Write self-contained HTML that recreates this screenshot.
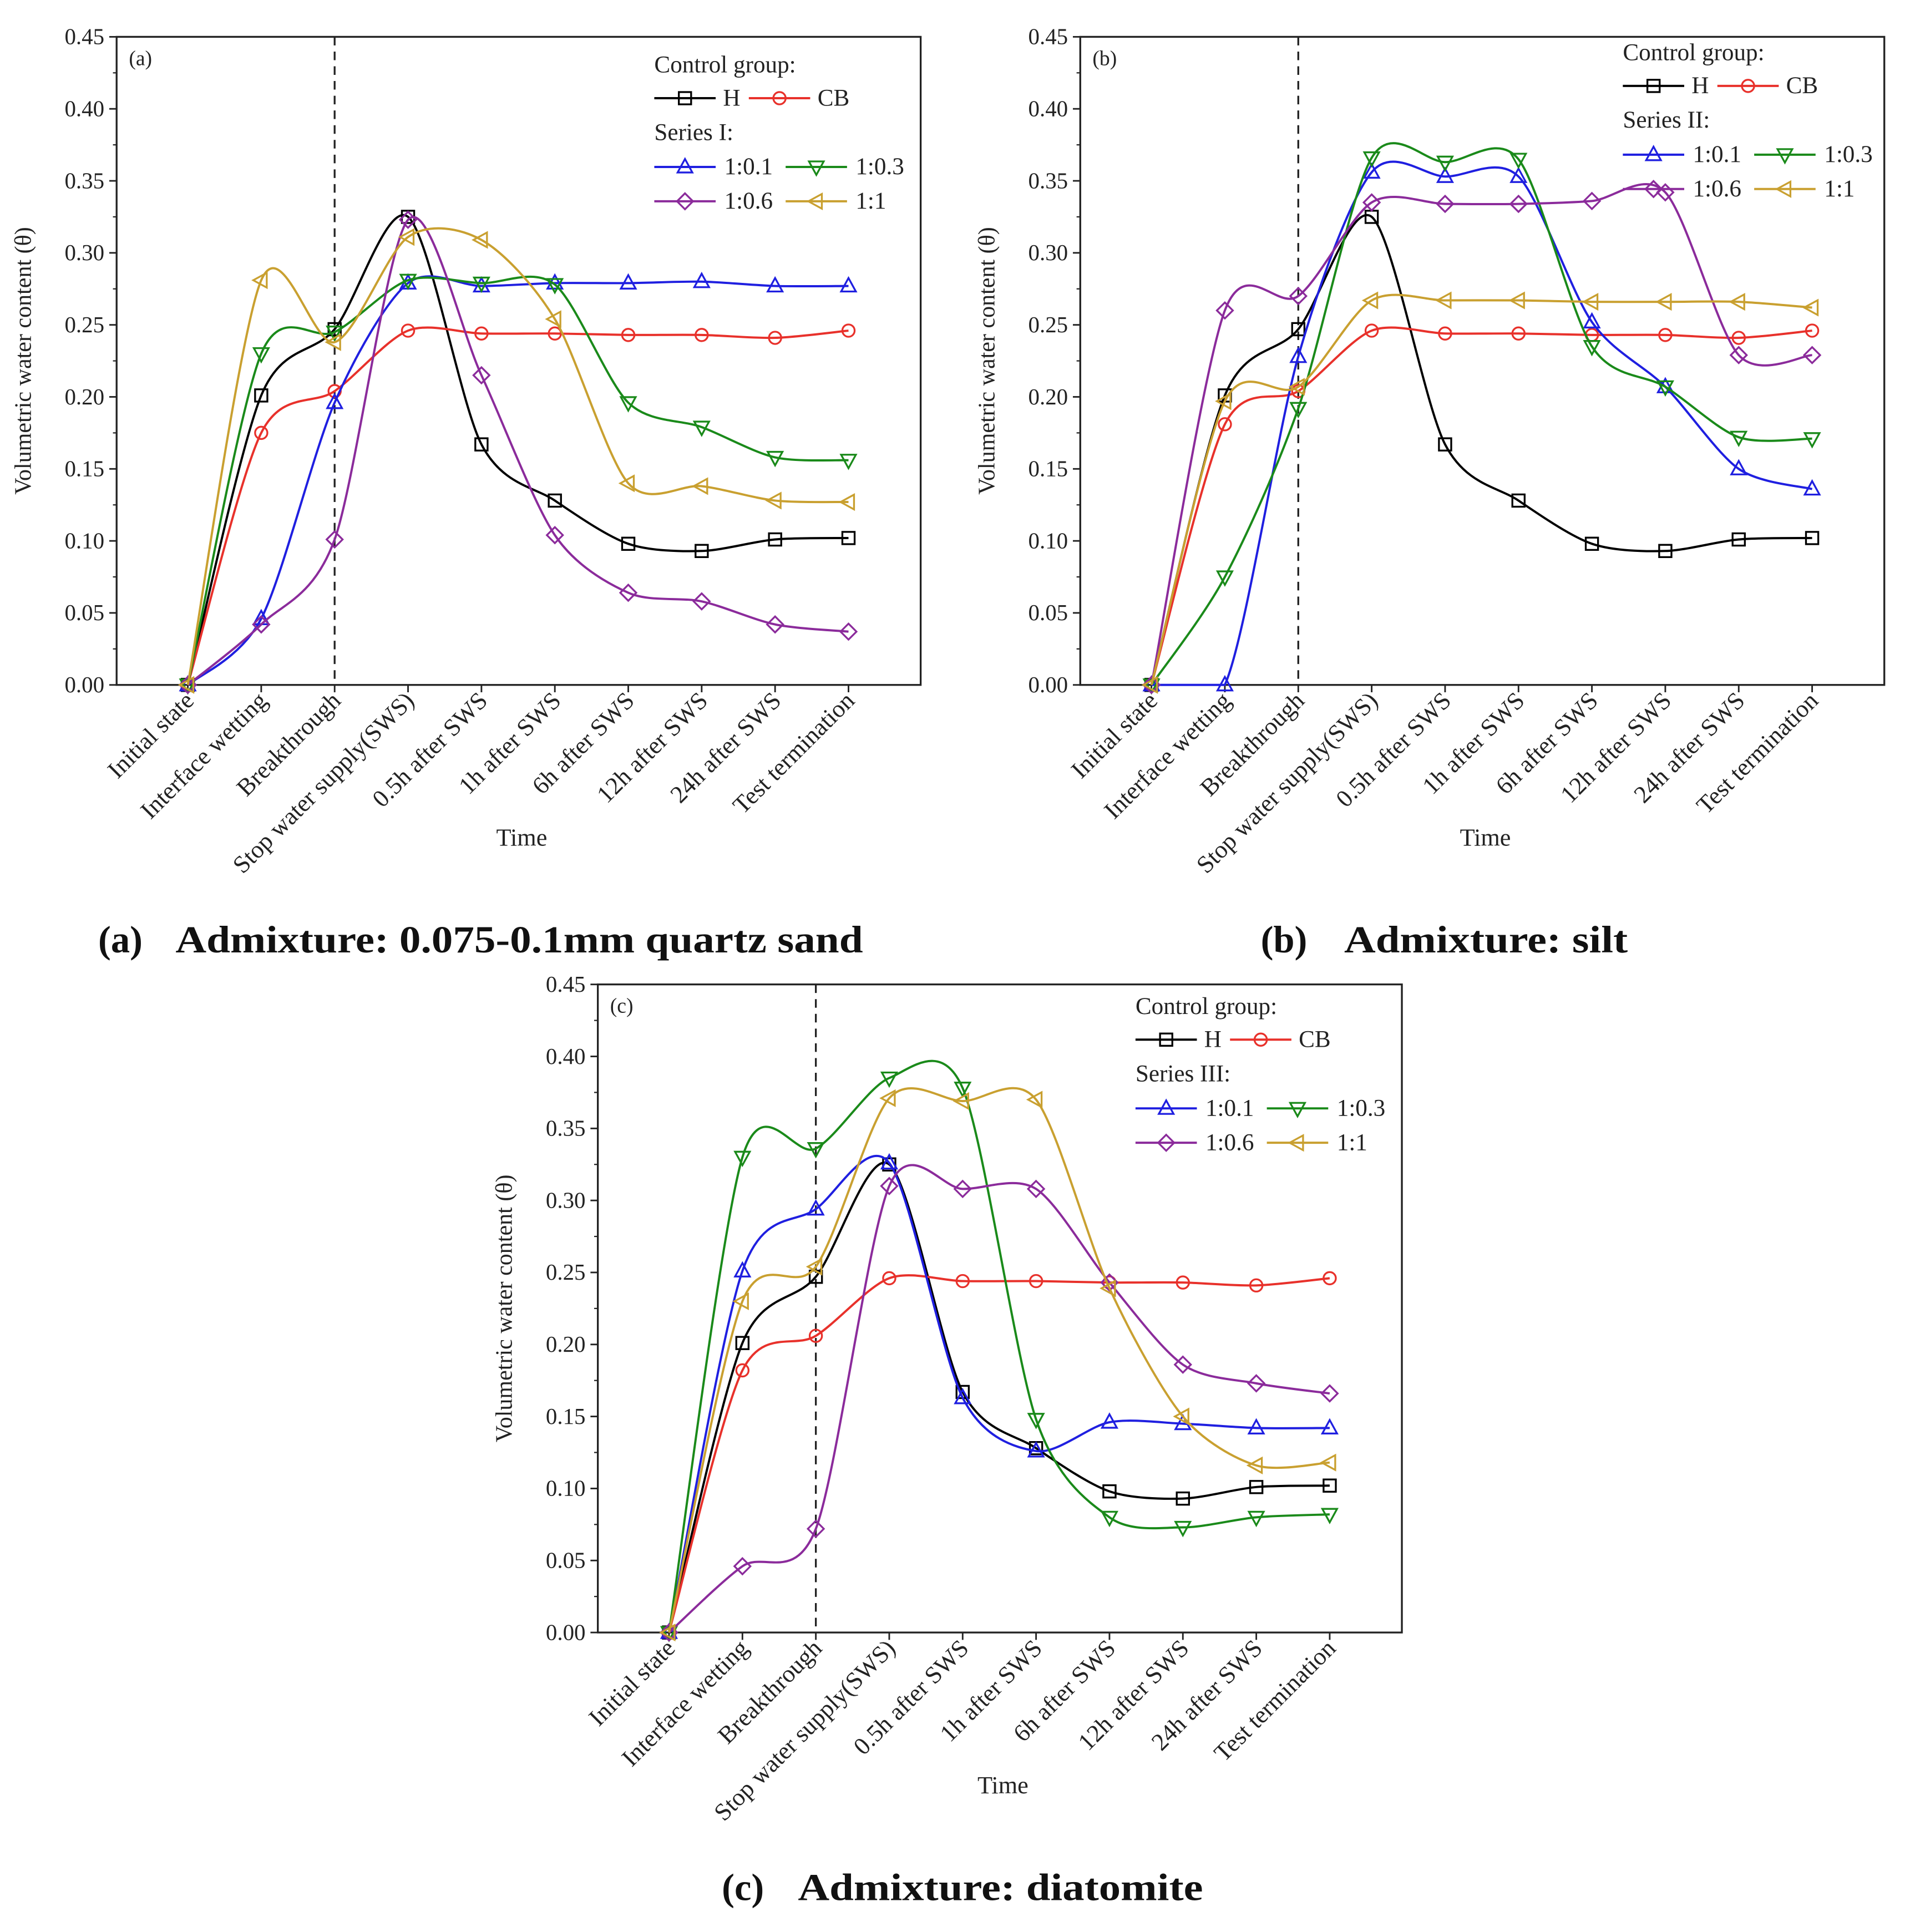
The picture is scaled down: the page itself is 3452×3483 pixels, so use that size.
<!DOCTYPE html>
<html><head><meta charset="utf-8"><style>
html,body{margin:0;padding:0;background:#fff;}
svg{display:block;}
text{font-family:"Liberation Serif",serif;}
</style></head><body>
<svg id="fig" width="3452" height="3483" viewBox="0 0 1560 1574" xmlns="http://www.w3.org/2000/svg">
<rect width="1560" height="1574" fill="#fff"/>
</svg>
<script>
const categories = ["Initial state","Interface wetting","Breakthrough","Stop water supply(SWS)","0.5h after SWS","1h after SWS","6h after SWS","12h after SWS","24h after SWS","Test termination"];
const yTicks = [0,0.05,0.10,0.15,0.20,0.25,0.30,0.35,0.40,0.45];
const yTickLabels = ["0.00","0.05","0.10","0.15","0.20","0.25","0.30","0.35","0.40","0.45"];
const seriesNames = ["H","CB","1:0.1","1:0.3","1:0.6","1:1"];
const H_vals = [0,0.201,0.247,0.325,0.167,0.128,0.098,0.093,0.101,0.102];
const CB_a = [0,0.175,0.204,0.246,0.244,0.244,0.243,0.243,0.241,0.246];
const CB_b = [0,0.181,0.204,0.246,0.244,0.244,0.243,0.243,0.241,0.246];
const CB_c = [0,0.182,0.206,0.246,0.244,0.244,0.243,0.243,0.241,0.246];
const a_01 = [0,0.046,0.196,0.279,0.277,0.279,0.279,0.280,0.277,0.277];
const a_03 = [0,0.230,0.245,0.281,0.279,0.278,0.196,0.179,0.158,0.156];
const a_06 = [0,0.042,0.101,0.323,0.215,0.104,0.064,0.058,0.042,0.037];
const a_1 = [0,0.281,0.238,0.311,0.309,0.254,0.140,0.138,0.128,0.127];
const b_01 = [0,0.0,0.228,0.356,0.353,0.353,0.252,0.207,0.150,0.136];
const b_03 = [0,0.075,0.192,0.366,0.363,0.365,0.235,0.207,0.172,0.171];
const b_06 = [0,0.260,0.270,0.335,0.334,0.334,0.336,0.342,0.229,0.229];
const b_1 = [0,0.197,0.207,0.267,0.267,0.267,0.266,0.266,0.266,0.262];
const c_01 = [0,0.251,0.294,0.326,0.163,0.126,0.146,0.145,0.142,0.142];
const c_03 = [0,0.330,0.336,0.385,0.378,0.148,0.080,0.073,0.080,0.082];
const c_06 = [0,0.046,0.072,0.310,0.308,0.308,0.243,0.186,0.173,0.166];
const c_1 = [0,0.230,0.254,0.371,0.369,0.370,0.239,0.150,0.116,0.118];

const NS="http://www.w3.org/2000/svg";
const svg=document.getElementById('fig');
function el(tag,attrs,parent,txt){const e=document.createElementNS(NS,tag);for(const k in attrs)e.setAttribute(k,attrs[k]);if(txt!==undefined)e.textContent=txt;(parent||svg).appendChild(e);return e;}
const colors=["#000","#e8312b","#1f1fe0","#1a8a1a","#8b2b9b","#c9a030"];
const markers=["square","circle","up","down","diamond","left"];
function marker(g,type,x,y,c){
  const r=5.5;let e;
  if(type==="square")e=el('rect',{x:x-r+0.5,y:y-r+0.5,width:2*r-1,height:2*r-1},g);
  else if(type==="circle")e=el('circle',{cx:x,cy:y,r:r-0.5},g);
  else{let p;
    if(type==="up")p=[[x,y-r-1],[x+r+0.5,y+r-1],[x-r-0.5,y+r-1]];
    else if(type==="down")p=[[x,y+r+1],[x+r+0.5,y-r+1],[x-r-0.5,y-r+1]];
    else if(type==="left")p=[[x-r-1,y],[x+r-1,y-r-0.5],[x+r-1,y+r+0.5]];
    else p=[[x,y-r-1],[x+r+1,y],[x,y+r+1],[x-r-1,y]];
    e=el('polygon',{points:p.map(q=>q.join(',')).join(' ')},g);}
  e.setAttribute('fill','none');e.setAttribute('stroke',c);e.setAttribute('stroke-width','1.5');
  
  
}
function spline(pts,yMax){
  const k=7;
  let d=`M${pts[0][0]},${pts[0][1]}`;
  for(let i=0;i<pts.length-1;i++){
    const p0=pts[Math.max(0,i-1)],p1=pts[i],p2=pts[i+1],p3=pts[Math.min(pts.length-1,i+2)];
    const c1=[p1[0]+(p2[0]-p0[0])/k,Math.min(yMax,p1[1]+(p2[1]-p0[1])/k)];
    const c2=[p2[0]-(p3[0]-p1[0])/k,Math.min(yMax,p2[1]-(p3[1]-p1[1])/k)];
    d+=` C${c1[0]},${c1[1]} ${c2[0]},${c2[1]} ${p2[0]},${p2[1]}`;
  }
  return d;
}
function panel(id,L,T,label,seriesTitle,data,leg,caption){
  const W=655,Hh=528,step=59.8,x0=L+58;
  const g=el('g',{});
  
  
  const xs=i=>x0+i*step, ys=v=>T+Hh-v/0.45*Hh;
  const ax=el('rect',{x:L,y:T,width:W,height:Hh,fill:'none',stroke:'#222','stroke-width':1.5},g);
  
  yTicks.forEach((v,i)=>{
    el('line',{x1:L-6,x2:L,y1:ys(v),y2:ys(v),stroke:'#222','stroke-width':1.3},g);
    if(i<yTicks.length-1) el('line',{x1:L-3,x2:L,y1:ys(v+0.025),y2:ys(v+0.025),stroke:'#222','stroke-width':1},g);
    const t=el('text',{x:L-10,y:ys(v)+6,'text-anchor':'end','font-size':18.5,fill:'#222'},g,yTickLabels[i]);
    
  });
  categories.forEach((c,i)=>{
    el('line',{x1:xs(i),x2:xs(i),y1:T+Hh,y2:T+Hh+6,stroke:'#222','stroke-width':1.3},g);
    const t=el('text',{x:0,y:0,'text-anchor':'end','font-size':20,fill:'#222',transform:`translate(${xs(i)+6},${T+Hh+14}) rotate(-45)`},g,c);
    
  });
  const xt=el('text',{x:L+330,y:T+Hh+131,'text-anchor':'middle','font-size':20,fill:'#222'},g,'Time');
  
  const yt=el('text',{x:0,y:0,'text-anchor':'middle','font-size':19,fill:'#222',transform:`translate(${L-70},${T+Hh/2}) rotate(-90)`},g,'Volumetric water content (θ)');
  
  el('line',{x1:xs(2),x2:xs(2),y1:T,y2:T+Hh,stroke:'#222','stroke-width':1.5,'stroke-dasharray':'7,5'},g);
  const pl=el('text',{x:L+10,y:T+23,'font-size':17,fill:'#222'},g,label);
  
  data.forEach((vals,s)=>{
    const pts=vals.map((v,i)=>[xs(i),ys(v)]);
    const p=el('path',{d:spline(pts,T+Hh),fill:'none',stroke:colors[s],'stroke-width':1.8},g);
    
    
    pts.forEach(q=>marker(g,markers[s],q[0],q[1],colors[s]));
  });
  const lg=el('g',{},g);
  
  const lx=leg[0],ly=leg[1];
  el('text',{x:lx,y:ly+6,'font-size':19.5,fill:'#222'},lg,'Control group:');
  el('text',{x:lx,y:ly+6+55,'font-size':19.5,fill:'#222'},lg,seriesTitle);
  const entries=[[0,lx,ly+27],[1,lx+77,ly+27],[2,lx,ly+83],[3,lx+107,ly+83],[4,lx,ly+111],[5,lx+107,ly+111]];
  entries.forEach(([s,x,y])=>{
    const e=el('g',{},lg);
    
    
    el('line',{x1:x,x2:x+50,y1:y,y2:y,stroke:colors[s],'stroke-width':1.8},e);
    marker(e,markers[s],x+25,y,colors[s]);
    el('text',{x:x+(s<2?56:57),y:y+6,'font-size':19.5,fill:'#222'},e,seriesNames[s]);
  });
  const cg=el('g',{},svg);
  
  el('text',{x:caption[0],y:caption[1],'font-size':31,'font-weight':'bold',fill:'#111'},cg,caption[2]);
  el('text',{x:caption[3],y:caption[1],'font-size':31,'font-weight':'bold',fill:'#111',textLength:caption[5],lengthAdjust:'spacingAndGlyphs'},cg,caption[4]);
}
panel('a',95,30,'(a)','Series I:',[H_vals,CB_a,a_01,a_03,a_06,a_1],[533,53],[80,776,'(a)',143,'Admixture: 0.075-0.1mm quartz sand',560]);
panel('b',880,30,'(b)','Series II:',[H_vals,CB_b,b_01,b_03,b_06,b_1],[1322,43],[1027,776,'(b)',1095,'Admixture: silt',231]);
panel('c',487,802,'(c)','Series III:',[H_vals,CB_c,c_01,c_03,c_06,c_1],[925,820],[588,1548,'(c)',650,'Admixture: diatomite',330]);
</script>
</body></html>
